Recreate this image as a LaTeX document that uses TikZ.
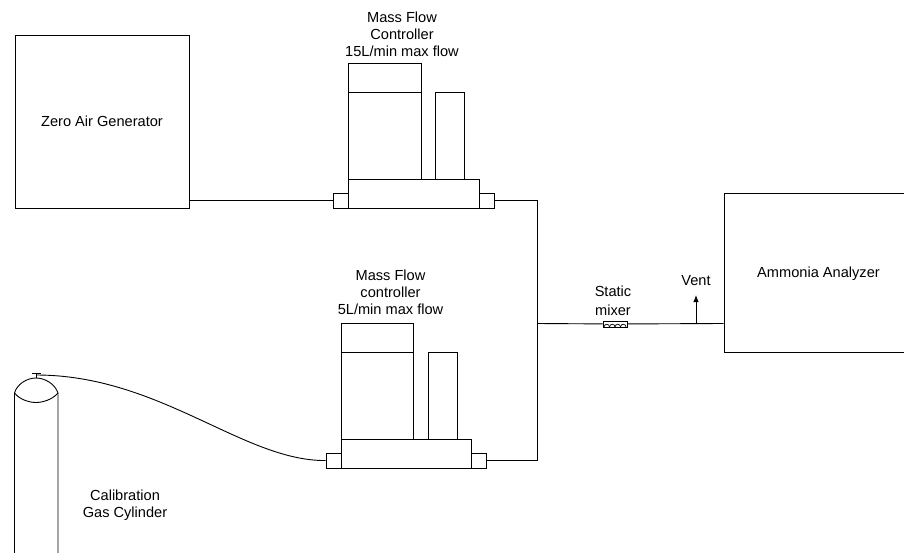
\documentclass[tikz,border=0pt]{standalone}
\usepackage{fontspec}
\setmainfont{Liberation Sans}
\usetikzlibrary{arrows.meta,positioning}
\tikzset{
  unit/.style={draw=black, line width=0.9pt, minimum width=0pt, minimum height=0pt, inner sep=0pt},
  lbl/.style={align=center, inner sep=0pt, font=\fontsize{14.6}{17}\selectfont},
  pipe/.style={line width=0.9pt, black},
  ventarr/.style={-{Latex[length=7pt,width=5.5pt]}, line width=0.9pt, black}
}
\begin{document}
\begin{tikzpicture}[x=1pt,y=-1pt]
        \clip (0,0) rectangle (904,553);
        % large boxes
        \node[unit,minimum width=174pt,minimum height=173pt] (zeroair) at (102,121.5) {};
        \node[unit,minimum width=190pt,minimum height=159pt] (analyzer) at (819,272.5) {};
        \node[lbl] (zerolbl) at (102,121) {Zero Air Generator};
        \node[lbl] (analyzerlbl) at (818.5,274) {Ammonia Analyzer};
        % upper controller
        \node[unit,minimum width=131pt,minimum height=29pt] (basea) at (413.5,193.5) {};
        \node[unit,minimum width=15pt,minimum height=15pt] (porta) at (340.5,200.5) {};
        \node[unit,minimum width=15pt,minimum height=15pt] (portb) at (486.5,200.5) {};
        \node[unit,minimum width=73pt,minimum height=87pt] (bodya) at (384.5,135.5) {};
        \node[unit,minimum width=73pt,minimum height=29pt] (capa) at (384.5,77.5) {};
        \node[unit,minimum width=29pt,minimum height=87pt] (sidea) at (449.5,135.5) {};
        \node[lbl] (mfca) at (402,34.5) {Mass Flow\\Controller\\15L/min max flow};
        % lower controller
        \node[unit,minimum width=130pt,minimum height=29pt] (basec) at (406,453.5) {};
        \node[unit,minimum width=15pt,minimum height=15pt] (portc) at (333.5,460.5) {};
        \node[unit,minimum width=15pt,minimum height=15pt] (portd) at (478.5,460.5) {};
        \node[unit,minimum width=72pt,minimum height=87pt] (bodyc) at (377,395.5) {};
        \node[unit,minimum width=72pt,minimum height=29pt] (capc) at (377,337.5) {};
        \node[unit,minimum width=29pt,minimum height=87pt] (sidec) at (442.5,395.5) {};
        \node[lbl] (mfcc) at (390.5,292.5) {Mass Flow\\controller\\5L/min max flow};
        % mixer
        \node[unit,minimum width=24pt,minimum height=6pt] (mixer) at (615,324) {};
        \foreach \i in {0,1,2,3}
          \draw[line width=0.7pt] (604+5.5*\i,327) arc[start angle=180,end angle=0,radius=2.75pt];
        \node[lbl,font=\fontsize{14.6}{19}\selectfont] (mixerlbl) at (613,301) {Static\\mixer};
        % tees and vent
        \coordinate (tee) at (537,323.5);
        \coordinate (teeb) at (696,323.5);
        \coordinate (venttip) at (696,295);
        \node[lbl,above=9pt of venttip] (ventlbl) {Vent};
        % cylinder
        \coordinate (valve) at (36,375);
        \draw[pipe] (14.5,553) -- (14.5,393) .. controls (17,384) and (27,378) .. (36,378)
          .. controls (45,378) and (55,384) .. (58,393) -- (58,553);
        \draw[pipe] (14.5,393) .. controls (20,400) and (30,402.5) .. (36,402.5)
          .. controls (42,402.5) and (52,400) .. (58,393);
        \draw[pipe] (36,378) -- (36,373);
        \draw[pipe] (32,373) -- (41,373);
        \node[lbl] (cyllbl) at (125,505.5) {Calibration\\Gas Cylinder};
        % connectors
        \draw[pipe] (zeroair.east |- porta) -- (porta);
        \draw[pipe] (portb) -- (portb -| tee) -- (portd -| tee) -- (portd);
        \draw[pipe] (tee) -- (mixer);
        \draw[pipe] (mixer) -- (analyzer.west |- tee);
        \draw[ventarr] (teeb) -- (venttip);
        \draw[pipe] (valve) .. controls (160,375) and (243,461) .. (portc);
      \end{tikzpicture}
\end{document}
